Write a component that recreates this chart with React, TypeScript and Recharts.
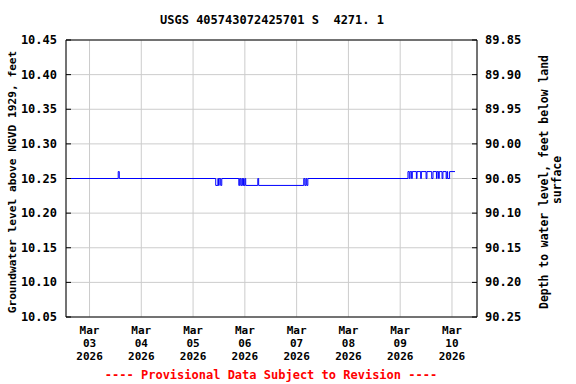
import { LineChart, Line, XAxis, YAxis, CartesianGrid, ReferenceLine } from 'recharts';

// hours since Mar 03 2026 00:00, step changes of the water level
const hours = [
  -10.9, 13.3, 13.8,
  58.5, 59.5, 59.8, 60.1, 60.8, 61.3,
  69.2, 69.6, 70.1, 70.6, 71.0, 71.3, 71.5, 72.0, 72.4,
  78.0, 78.4,
  99.3, 99.8, 100.3, 100.7, 101.2,
  147.6, 148.2, 148.6, 149.3, 149.6, 151.5, 151.8, 153.5, 153.8, 156.0, 156.4,
  158.6, 159.2, 160.8, 161.1, 161.8, 162.1, 163.4, 163.8, 165.3, 165.7, 166.0, 166.9, 169.4,
];
const levels = [
  10.25, 10.26, 10.25,
  10.24, 10.25, 10.24, 10.25, 10.24, 10.25,
  10.24, 10.25, 10.24, 10.25, 10.24, 10.25, 10.24, 10.25, 10.24,
  10.25, 10.24,
  10.25, 10.24, 10.25, 10.24, 10.25,
  10.26, 10.25, 10.26, 10.25, 10.26, 10.25, 10.26, 10.25, 10.26, 10.25, 10.26,
  10.25, 10.26, 10.25, 10.26, 10.25, 10.26, 10.25, 10.26, 10.25, 10.26, 10.25, 10.26, 10.26,
];

const dayTicks = [0, 24, 48, 72, 96, 120, 144, 168];
const dayLabels = ['03', '04', '05', '06', '07', '08', '09', '10'];
const levelTicks = [10.05, 10.1, 10.15, 10.2, 10.25, 10.3, 10.35, 10.4, 10.45];
const depthTicks = [89.85, 89.9, 89.95, 90.0, 90.05, 90.1, 90.15, 90.2, 90.25];

const data = hours.map((t, i) => ({ t, level: levels[i] }));

const FONT = '"DejaVu Sans Mono", monospace';

function LeftTick({ x, y, payload }: any) {
  return (
    <g>
      <line x1={x} x2={x + 5} y1={y} y2={y} stroke="#000" />
      <text x={x - 9} y={y} dy={4} textAnchor="end" fontFamily={FONT} fontWeight="bold" fontSize={12} fill="#000">
        {payload.value.toFixed(2)}
      </text>
    </g>
  );
}

function RightTick({ x, y, payload }: any) {
  return (
    <g>
      <line x1={x - 5} x2={x} y1={y} y2={y} stroke="#000" />
      <text x={x + 8} y={y} dy={4} textAnchor="start" fontFamily={FONT} fontWeight="bold" fontSize={12} fill="#000">
        {payload.value.toFixed(2)}
      </text>
    </g>
  );
}

function DayTick({ x, y, payload }: any) {
  const i = dayTicks.indexOf(payload.value);
  return (
    <text x={x} y={y} textAnchor="middle" fontFamily={FONT} fontWeight="bold" fontSize={11} fill="#000">
      <tspan x={x} dy={17}>Mar</tspan>
      <tspan x={x} dy={13}>{dayLabels[i]}</tspan>
      <tspan x={x} dy={13}>2026</tspan>
    </text>
  );
}

export default function App() {
  return (
    <div style={{ position: 'relative', width: 576, height: 384 }}>
      <style>{'body{margin:0}'}</style>
      <LineChart width={576} height={384} data={data} margin={{ top: 40, right: 0, bottom: 0, left: 0 }}>
        <CartesianGrid yAxisId="left" stroke="#cccccc" />
        <XAxis
          dataKey="t"
          type="number"
          domain={[-10.9, 179.6]}
          ticks={dayTicks}
          allowDataOverflow
          height={67}
          tickSize={0}
          tickMargin={0}
          tick={<DayTick />}
          axisLine={{ stroke: '#000' }}
        />
        <YAxis
          yAxisId="left"
          orientation="left"
          type="number"
          domain={[10.05, 10.45]}
          ticks={levelTicks}
          allowDataOverflow
          width={66}
          tickSize={0}
          tickMargin={0}
          tick={<LeftTick />}
          axisLine={{ stroke: '#000' }}
        />
        <YAxis
          yAxisId="right"
          orientation="right"
          type="number"
          domain={[89.85, 90.25]}
          reversed
          allowDataOverflow
          ticks={depthTicks}
          interval={0}
          width={99}
          tickSize={0}
          tickMargin={0}
          tick={<RightTick />}
          axisLine={{ stroke: '#000' }}
        />
        <ReferenceLine yAxisId="left" y={10.45} stroke="#000" />
        <Line
          yAxisId="left"
          type="stepAfter"
          dataKey="level"
          stroke="#0000ff"
          strokeWidth={1}
          dot={false}
          isAnimationActive={false}
        />
      </LineChart>
      <svg width={576} height={384} style={{ position: 'absolute', left: 0, top: 0, pointerEvents: 'none' }}>
        <text
          x={272}
          y={24}
          textAnchor="middle"
          fontFamily={FONT}
          fontWeight="bold"
          fontSize={12}
          fill="#000"
          style={{ whiteSpace: 'pre' }}
        >
          {'USGS 405743072425701 S  4271. 1'}
        </text>
        <text
          transform="translate(16,182) rotate(-90)"
          textAnchor="middle"
          fontFamily={FONT}
          fontWeight="bold"
          fontSize={11.2}
          fill="#000"
        >
          Groundwater level above NGVD 1929, feet
        </text>
        <text
          transform="translate(548,182) rotate(-90)"
          textAnchor="middle"
          fontFamily={FONT}
          fontWeight="bold"
          fontSize={11.4}
          fill="#000"
        >
          Depth to water level, feet below land
        </text>
        <text
          transform="translate(561,180) rotate(-90)"
          textAnchor="middle"
          fontFamily={FONT}
          fontWeight="bold"
          fontSize={11.4}
          fill="#000"
        >
          surface
        </text>
        <text x={271} y={379} textAnchor="middle" fontFamily={FONT} fontWeight="bold" fontSize={12} fill="#ff0000">
          ---- Provisional Data Subject to Revision ----
        </text>
      </svg>
    </div>
  );
}
